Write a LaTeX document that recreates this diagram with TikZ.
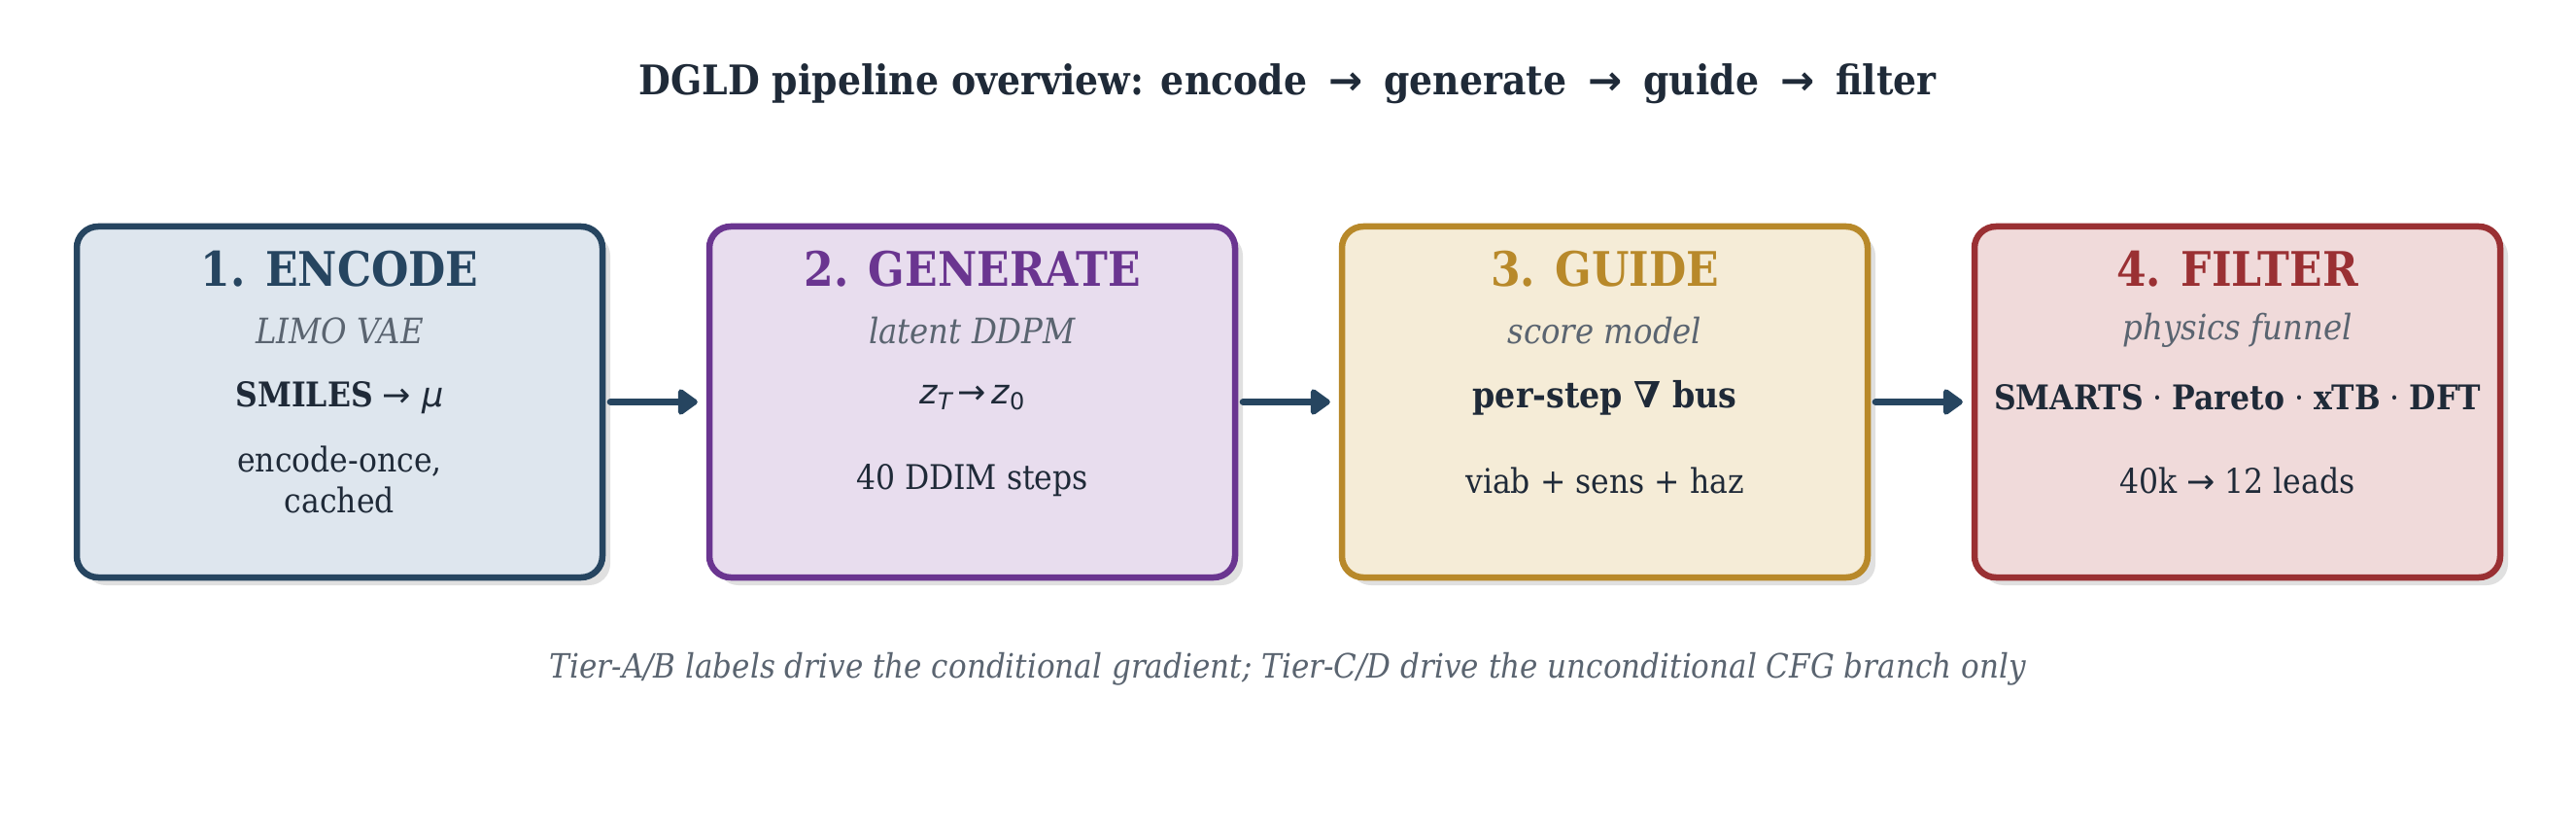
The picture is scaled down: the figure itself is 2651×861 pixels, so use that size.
\documentclass[tikz,border=0pt]{standalone}
\usepackage{fontspec}
\usetikzlibrary{arrows.meta}
\setmainfont{DejaVu Serif Condensed}
\newfontfamily\dsans{DejaVu Sans}
\newfontfamily\dserif{DejaVu Serif}
\begin{document}
\begin{tikzpicture}[x=1pt,y=-1pt,
 box/.style={draw=#1,line width=6.5pt,rounded corners=22pt},
 frame/.style={draw=none,minimum width=541pt,minimum height=361pt},
 txt/.style={text=ink,font=\fontsize{35}{42}\selectfont,align=center,anchor=center},
 head/.style={font=\fontsize{49}{54}\selectfont\bfseries,anchor=center},
 sub/.style={text=grayt,font=\fontsize{36}{42}\selectfont\itshape,anchor=center},
 arr/.style={draw=c1,line width=7pt,line cap=round,-{Triangle[length=22pt,width=30pt,round]}}]
\definecolor{ink}{HTML}{1F2A38}\definecolor{grayt}{HTML}{5A6470}
\definecolor{c1}{HTML}{264560}\definecolor{f1}{HTML}{DEE6EE}
\definecolor{c2}{HTML}{6A3590}\definecolor{f2}{HTML}{E8DDEE}
\definecolor{c3}{HTML}{B8892A}\definecolor{f3}{HTML}{F5ECD7}
\definecolor{c4}{HTML}{9A3033}\definecolor{f4}{HTML}{F0DADA}
\useasboundingbox[fill=white] (0,0) rectangle (2651,861);
\node[text=ink,font=\fontsize{42}{48}\selectfont\bfseries] (title) at (1325,86) {DGLD pipeline overview: encode\hspace{22pt}{\dsans →}\hspace{22pt}generate\hspace{22pt}{\dsans →}\hspace{22pt}guide\hspace{22pt}{\dsans →}\hspace{22pt}filter};
\foreach \i/\x in {1/79,2/730,3/1381,4/2032}{
 \fill[black!12,rounded corners=22pt] (\x+8,241) rectangle (\x+549,602);
 \draw[box=c\i,fill=f\i] (\x,233) rectangle (\x+541,594);
}
\node[frame] (n1) at (349.5,413.5) {};
\node[frame] (n2) at (1000.5,413.5) {};
\node[frame] (n3) at (1651.5,413.5) {};
\node[frame] (n4) at (2302.5,413.5) {};
\node[head,text=c1] (h1) at (349.5,277) {1. ENCODE};
\node[sub] (s1) at (349.5,340) {LIMO VAE};
\node[txt] (l1) at (349.5,409) {\textbf{SMILES} {\dsans → \itshape μ}};
\node[txt] (m1) at (349.5,493) {encode-once,\\cached};
\node[head,text=c2] (h2) at (1000.5,277) {2. GENERATE};
\node[sub] (s2) at (1000.5,340) {latent DDPM};
\node[txt] (l2) at (1000.5,409) {{\dsans\itshape z}{\dsans\fontsize{24}{26}\selectfont\raisebox{-6pt}{\itshape T}}{\dsans\,→\,}{\dsans\itshape z}{\dsans\fontsize{24}{26}\selectfont\raisebox{-6pt}{0}}};
\node[txt] (m2) at (1000.5,494) {40 DDIM steps};
\node[head,text=c3] (h3) at (1651.5,277) {3. GUIDE};
\node[sub] (s3) at (1651.5,340) {score model};
\node[txt,font=\fontsize{37}{42}\selectfont] (l3) at (1651.5,409) {\textbf{per-step {\dserif ∇} bus}};
\node[txt] (m3) at (1651.5,494) {viab + sens + haz};
\node[head,text=c4] (h4) at (2302.5,277) {4. FILTER};
\node[sub] (s4) at (2302.5,340) {physics funnel};
\node[txt,font=\fontsize{35}{40}\selectfont] (l4) at (2302.5,409) {\textbf{SMARTS} · \textbf{Pareto} · \textbf{xTB} · \textbf{DFT}};
\node[txt] (m4) at (2302.5,494) {40k {\dsans →} 12 leads};
\draw[arr] ([xshift=8pt]n1.east) -- ([xshift=-12pt]n2.west);
\draw[arr] ([xshift=8pt]n2.east) -- ([xshift=-12pt]n3.west);
\draw[arr] ([xshift=8pt]n3.east) -- ([xshift=-12pt]n4.west);
\node[sub,font=\fontsize{34.5}{40}\selectfont\itshape] (foot) at (1325,688) {Tier-A/B labels drive the conditional gradient; Tier-C/D drive the unconditional CFG branch only};
\end{tikzpicture}
\end{document}
